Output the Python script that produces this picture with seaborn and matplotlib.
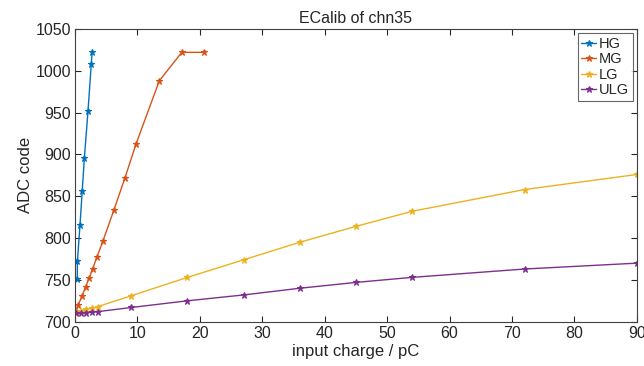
import numpy as np
import pandas as pd
import matplotlib
matplotlib.use("Agg")
import matplotlib.pyplot as plt
import seaborn as sns

hg_x = [0.36, 0.38, 0.8, 1.15, 1.5, 2.08, 2.6, 2.75]
hg_y = [751, 772, 816, 856, 896, 952, 1008, 1023]

mg_x = [0.2, 0.5, 1.15, 1.7, 2.25, 2.8, 3.5, 4.45, 6.25, 8.0, 9.8, 13.5, 17.1, 20.7]
mg_y = [712, 720, 731, 742, 752, 763, 777, 796, 834, 872, 913, 988, 1022, 1022]

lg_x = [0.2, 0.9, 1.8, 2.7, 3.6, 9, 18, 27, 36, 45, 54, 72, 90]
lg_y = [712, 713, 715, 716, 718, 731, 753, 774, 795, 814, 832, 858, 876]

ulg_x = [0.2, 0.9, 1.8, 2.7, 3.6, 9, 18, 27, 36, 45, 54, 72, 90]
ulg_y = [710, 710.5, 711, 711.5, 712, 717, 725, 732, 740, 747, 753, 763, 770]

series = ["HG", "MG", "LG", "ULG"]
colors = ["#0072BD", "#D95319", "#EDB120", "#7E2F8E"]

sns.set_theme(style="white")
plt.rcParams['font.family'] = ['Liberation Sans', 'DejaVu Sans']

fig = plt.figure(figsize=(6.44, 3.66), dpi=100)
ax = fig.add_axes([0.1165, 0.121, 0.8725, 0.8])

data = {"HG": (hg_x, hg_y), "MG": (mg_x, mg_y), "LG": (lg_x, lg_y), "ULG": (ulg_x, ulg_y)}
for name, col in zip(series, colors):
    x, y = data[name]
    df = pd.DataFrame({"x": x, "y": y})
    sns.lineplot(data=df, x="x", y="y", ax=ax, color=col, marker="*",
                 markersize=4.5, markeredgewidth=0.8, markeredgecolor=col,
                 linewidth=1.0, sort=False, label=name)

ax.set_xlim(0, 90)
ax.set_ylim(700, 1050)
ax.set_xticks(np.arange(0, 91, 10))
ax.set_yticks(np.arange(700, 1051, 50))
ax.tick_params(direction="in", length=4, width=0.8, top=True, right=True,
               bottom=True, left=True, labelsize=11.5, colors="#262626", pad=3)
for s in ax.spines.values():
    s.set_color("#404040")
    s.set_linewidth(0.8)
ax.set_xlabel("input charge / pC", fontsize=12, color="#262626", labelpad=2)
ax.set_ylabel("ADC code", fontsize=12, color="#262626", labelpad=2)
ax.set_title("ECalib of chn35", fontsize=11.5, color="#262626", pad=4)
leg = ax.legend(loc="upper right", fontsize=10.5, frameon=True, fancybox=False,
                edgecolor="#404040", handlelength=1.0, handletextpad=0.2,
                borderpad=0.25, labelspacing=0.1, borderaxespad=0.3)
leg.get_frame().set_linewidth(0.8)

fig.savefig("out.png", dpi=100)
